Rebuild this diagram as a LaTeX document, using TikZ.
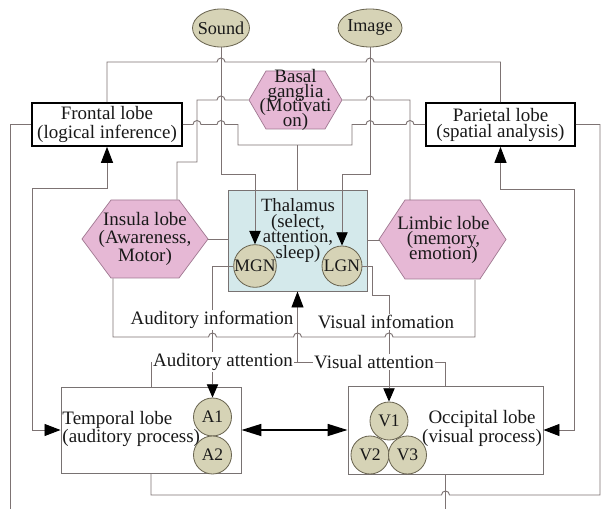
\documentclass[tikz,border=0pt]{standalone}
\usepackage{fontspec}
\setmainfont{Liberation Serif}
\usepackage{xcolor}
\usepackage{tikz}
\usetikzlibrary{arrows.meta, shapes.geometric}

\definecolor{wiregray}{RGB}{125,115,115}
\definecolor{hexfill}{RGB}{230,184,213}
\definecolor{hexline}{RGB}{160,120,145}
\definecolor{khaki}{RGB}{214,211,182}
\definecolor{khakiline}{RGB}{105,100,80}
\definecolor{thafill}{RGB}{212,233,235}
\definecolor{boxline}{RGB}{120,114,114}

% 六边形: 中心x, 中心y, 半宽, 半高, 斜边水平长度
\newcommand{\hexshape}[5]{%
  \filldraw[hexa] (#1-#3,#2) -- (#1-#3+#5,#2-#4) -- (#1+#3-#5,#2-#4)
    -- (#1+#3,#2) -- (#1+#3-#5,#2+#4) -- (#1-#3+#5,#2+#4) -- cycle;}

\begin{document}
\lineskiplimit=-20pt
\begin{tikzpicture}[x=0.03cm, y=-0.03cm, line width=0.8pt,
    wire/.style={draw=wiregray, line width=0.8pt},
    arr/.style={-{Triangle[length=4mm,width=3.4mm,color=black]}},
    arrb/.style={-{Triangle[length=4.8mm,width=3.6mm,color=black]}},
    arrs/.style={{Triangle[length=4.8mm,width=3.6mm,color=black]}-{Triangle[length=4.8mm,width=3.6mm,color=black]}},
    txt/.style={font=\fontsize{16.2}{#1}\selectfont, align=center, inner sep=0pt, text=black!90},
    lbl/.style={fill=white, inner sep=1pt, font=\fontsize{16.2}{17}\selectfont, text=black!90},
    ell/.style={ellipse, draw=khakiline, fill=khaki, line width=0.7pt, minimum height=1.14cm, inner xsep=-0.12cm, inner ysep=0pt, font=\fontsize{15.5}{17}\selectfont, text=black!90},
    nuc/.style={circle, draw=khakiline, fill=khaki, line width=0.7pt, inner sep=0pt, minimum size=1.14cm, font=\fontsize{15}{15}\selectfont, text=black!90},
    hexa/.style={draw=hexline, fill=hexfill, line width=0.6pt},
    hexbox/.style={rectangle, inner sep=0pt},
    lobe/.style={rectangle, draw=black, line width=1.4pt, fill=white},
    area/.style={rectangle, draw=boxline, line width=0.8pt, fill=white}
  ]
  \useasboundingbox (0,0) rectangle (608,509);
  \fill[white] (0,0) rectangle (608,509);

  % 感觉输入
  \node[ell, minimum width=1.71cm] (snd) at (221,28) {Sound};
  \node[ell, minimum width=1.92cm] (img) at (370,28) {Image};

  % 额叶 / 顶叶
  \node[lobe, txt=17, minimum width=4.5cm, minimum height=1.29cm] (fro) at (107,124.5) {Frontal lobe\\(logical inference)};
  \node[lobe, txt=13.6, minimum width=4.47cm, minimum height=1.29cm] (par) at (500.5,124.5) {Parietal lobe\\(spatial analysis)};

  % 基底神经节, 岛叶, 边缘叶
  \hexshape{295.5}{100}{46.5}{29}{17}
  \node[hexbox, txt=12.6, minimum width=2.79cm, minimum height=1.74cm] (bg) at (295.5,100) {Basal\\ganglia\\(Motivati\\on)};
  \hexshape{145}{239}{63}{39}{29}
  \node[hexbox, txt=15.3, minimum width=3.78cm, minimum height=2.34cm] (ins) at (145,239) {Insula lobe\\(Awareness,\\Motor)};
  \hexshape{442.5}{239.5}{63.5}{39.5}{26}
  \node[hexbox, txt=13, minimum width=3.81cm, minimum height=2.37cm] (lim) at (443.5,240) {Limbic lobe\\(memory,\\emotion)};

  % 丘脑
  \node[area, fill=thafill, minimum width=4.17cm, minimum height=3.03cm] (tha) at (297.5,240.5) {};
  \node[txt=13.2, font=\fontsize{16}{13.2}\selectfont] (thatxt) at (298,230.5) {Thalamus\\(select,\\attention,\\sleep)};
  \node[nuc, minimum size=1.2cm] (mgn) at (255,266) {MGN};
  \node[nuc, minimum size=1.2cm] (lgn) at (342,266) {LGN};

  % 颞叶 / 枕叶
  \node[area, minimum width=5.4cm, minimum height=2.58cm] (tem) at (151,430) {};
  \node[txt=15.3, align=left, anchor=west] (temtxt) at (62,429) {Temporal lobe\\(auditory process)};
  \node[nuc] (a1) at (212.5,417) {A1};
  \node[nuc] (a2) at (212.5,455) {A2};
  \node[area, minimum width=5.85cm, minimum height=2.64cm] (occ) at (445.5,430) {};
  \node[txt=16.2] (occtxt) at (482,428) {Occipital lobe\\(visual process)};
  \node[nuc] (v1) at (389,421) {V1};
  \node[nuc] (v2) at (370,455) {V2};
  \node[nuc] (v3) at (407.5,455) {V3};

  % 顶部连线 (额叶 -- 顶叶)
  \draw[wire] (fro.north) |- (217,62) arc[start angle=180, end angle=0, radius=1.2mm]
    -- (366,62) arc[start angle=180, end angle=0, radius=1.2mm] -| (par.north);

  % 基底神经节 -- 岛叶 / 边缘叶
  \draw[wire] (bg.west) -- (225,100) arc[start angle=0, end angle=180, radius=1.2mm]
    -- (197,100) -- (197,162) -- (177,162) -- (177,0 |- ins.north);
  \draw[wire] (bg.east) -- (366,100) arc[start angle=180, end angle=0, radius=1.2mm]
    -- (410,100) -- (410,0 |- lim.north);

  % 额叶 -- 顶叶 (经丘脑)
  \draw[wire] (fro.east) -- (193,124.5) arc[start angle=180, end angle=0, radius=1.2mm]
    -- (217,124.5) arc[start angle=180, end angle=0, radius=1.2mm]
    -- (238,124.5) -- (238,145) -- (352,145) -- (352,124.5)
    -- (366,124.5) arc[start angle=180, end angle=0, radius=1.2mm]
    -- (406,124.5) arc[start angle=180, end angle=0, radius=1.2mm] -- (par.west);
  \draw[wire] (tha.north) -- (297.5,145);

  % 两侧回路
  \draw[wire, arrs] (fro.south) |- (32,188) |- (tem.west);
  \draw[wire, arrs] (par.south) |- (574,189) |- (occ.east);
  \draw[wire] (fro.west) -| (10,509);
  \draw[wire] (tem.south) |- (441.5,495) arc[start angle=180, end angle=0, radius=1.2mm]
    -- (600,495) |- (par.east);
  \draw[wire] (occ.south) -- (445.5,509);

  % 感觉通路
  \draw[wire, arr] (snd.south) -- (221,174) -| (mgn.north);
  \draw[wire, arr] (img.south) -- (370,174) -| (lgn.north);

  % 岛叶 / 边缘叶 -- 丘脑
  \draw[wire] (ins.east) -- (ins.east -| tha.west);
  \draw[wire] (lim.west) -- (lim.west -| tha.east);
  \draw[wire] (113,0 |- ins.south) -- (113,337)
    -- (208.5,337) arc[start angle=180, end angle=0, radius=1.2mm]
    -- (293.5,337) arc[start angle=180, end angle=0, radius=1.2mm]
    -- (385,337) arc[start angle=180, end angle=0, radius=1.2mm]
    -- (475,337) -- (475,0 |- lim.south);

  % 丘脑 -> 初级皮层
  \draw[wire, arr] (mgn.west) -| (a1.north);
  \draw[wire, arr] (lgn.east) -- (372,266) -- (372,295) -| (v1.north);

  % 注意力反馈
  \coordinate (att) at (297.5,362);
  \draw[wire] (tem.north) |- (445.5,362) -- (occ.north);
  \draw[wire, arrb] (att) -- (tha.south);

  % 颞叶 <-> 枕叶
  \draw[line width=1.5pt, {Triangle[length=6mm,width=3.6mm]}-{Triangle[length=6mm,width=3.6mm]}] (tem.east) -- (occ.west);

  % 标注
  \node[lbl] (audinf) at (212,320) {Auditory information};
  \node[lbl] (visinf) at (386,322) {Visual infomation};
  \node[lbl] (audatt) at (223,362) {Auditory attention};
  \node[lbl] (visatt) at (374,362) {Visual attention};
\end{tikzpicture}
\end{document}
